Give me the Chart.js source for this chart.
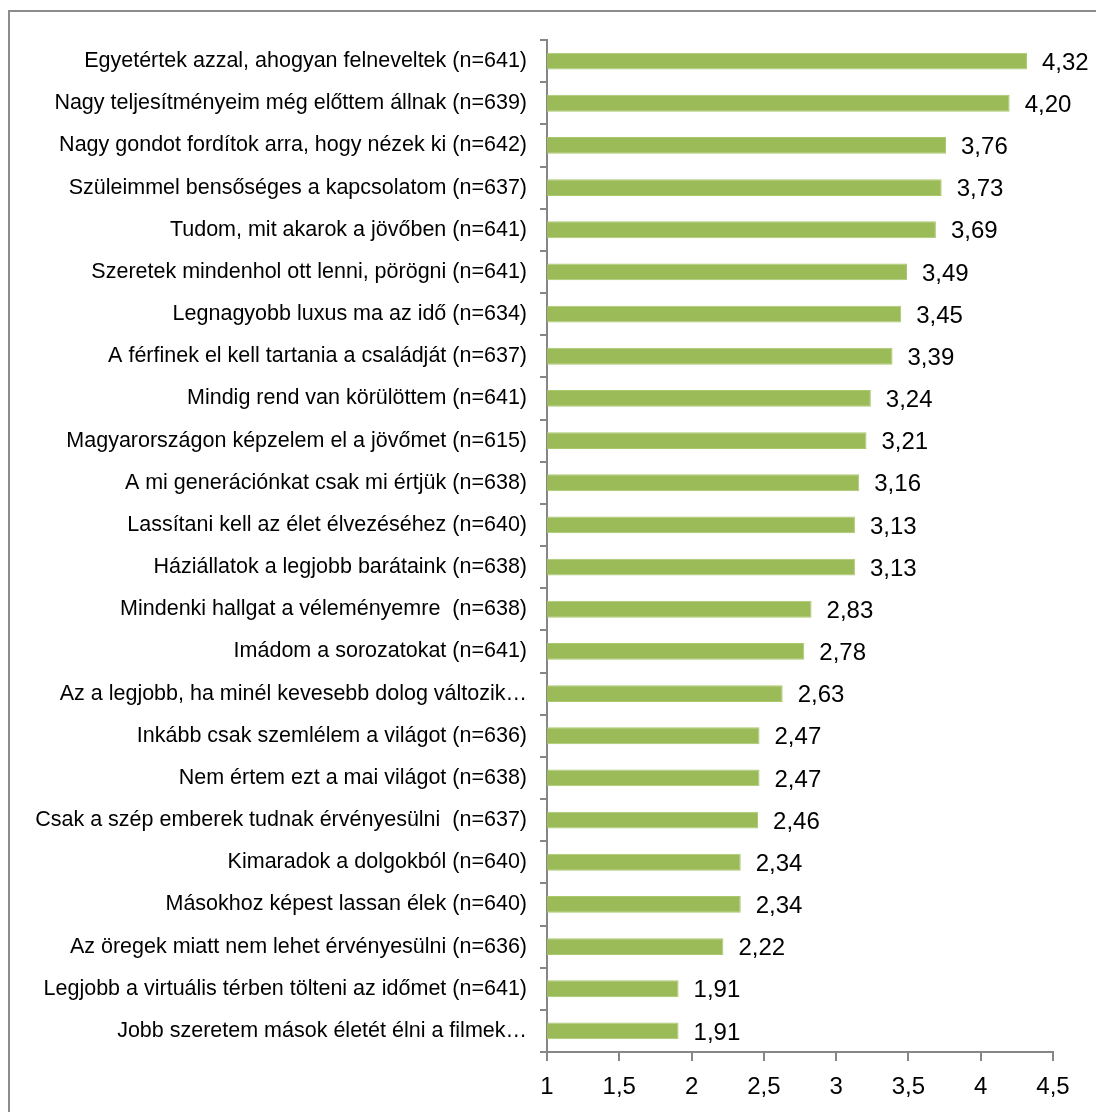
<!DOCTYPE html>
<html>
<head>
<meta charset="utf-8">
<script src="https://cdn.jsdelivr.net/npm/chart.js@4"></script>
<style>
  body { margin: 0; background: #fff; overflow: hidden; }
  #keret { position: absolute; left: 8px; top: 10px; width: 1200px; height: 1200px; border: 2px solid #8c8c8c; }
  #doboz { position: absolute; left: 0; top: 0; width: 1096px; height: 1112px; }
</style>
</head>
<body>
<div id="keret"></div>
<div id="doboz"><canvas id="myChart" width="1096" height="1112"></canvas></div>
<script>
const allitasok = [
  "Egyetértek azzal, ahogyan felneveltek (n=641)",
  "Nagy teljesítményeim még előttem állnak (n=639)",
  "Nagy gondot fordítok arra, hogy nézek ki (n=642)",
  "Szüleimmel bensőséges a kapcsolatom (n=637)",
  "Tudom, mit akarok a jövőben (n=641)",
  "Szeretek mindenhol ott lenni, pörögni (n=641)",
  "Legnagyobb luxus ma az idő (n=634)",
  "A férfinek el kell tartania a családját (n=637)",
  "Mindig rend van körülöttem (n=641)",
  "Magyarországon képzelem el a jövőmet (n=615)",
  "A mi generációnkat csak mi értjük (n=638)",
  "Lassítani kell az élet élvezéséhez (n=640)",
  "Háziállatok a legjobb barátaink (n=638)",
  "Mindenki hallgat a véleményemre  (n=638)",
  "Imádom a sorozatokat (n=641)",
  "Az a legjobb, ha minél kevesebb dolog változik…",
  "Inkább csak szemlélem a világot (n=636)",
  "Nem értem ezt a mai világot (n=638)",
  "Csak a szép emberek tudnak érvényesülni  (n=637)",
  "Kimaradok a dolgokból (n=640)",
  "Másokhoz képest lassan élek (n=640)",
  "Az öregek miatt nem lehet érvényesülni (n=636)",
  "Legjobb a virtuális térben tölteni az időmet (n=641)",
  "Jobb szeretem mások életét élni a filmek…"
];
const atlagok = [4.32, 4.20, 3.76, 3.73, 3.69, 3.49, 3.45, 3.39, 3.24, 3.21, 3.16, 3.13,
  3.13, 2.83, 2.78, 2.63, 2.47, 2.47, 2.46, 2.34, 2.34, 2.22, 1.91, 1.91];
const tengelyMin = 1;
const tengelyMax = 4.5;
const lepes = 0.5;

const betu = "'Liberation Sans', Arial, sans-serif";
const tengelySzin = "#868686";

const ertekCimkek = {
  id: "ertekCimkek",
  afterDatasetsDraw(chart) {
    const ctx = chart.ctx;
    const meta = chart.getDatasetMeta(0);
    ctx.save();
    ctx.font = "24px " + betu;
    ctx.fillStyle = "#000";
    ctx.textAlign = "left";
    ctx.textBaseline = "middle";
    meta.data.forEach((bar, i) => {
      const szoveg = atlagok[i].toFixed(2).replace(".", ",");
      ctx.fillText(szoveg, bar.x + 15, bar.y + 2);
    });
    ctx.restore();
  }
};

let grapharea = document.getElementById("myChart").getContext("2d");
let myChart = new Chart(grapharea, {
  type: "bar",
  data: {
    labels: allitasok,
    datasets: [{
      data: atlagok,
      backgroundColor: "#9bbb59",
      borderColor: "#a9c86c",
      borderWidth: 1,
      categoryPercentage: 1,
      barPercentage: 0.4
    }]
  },
  options: {
    indexAxis: "y",
    responsive: false,
    animation: false,
    layout: { padding: { top: 40, right: 43, left: 0, bottom: 0 } },
    plugins: { legend: { display: false }, tooltip: { enabled: false } },
    scales: {
      x: {
        min: tengelyMin,
        max: tengelyMax,
        afterFit(scale) { scale.height = 60; },
        afterBuildTicks(scale) {
          const t = [];
          for (let v = tengelyMin; v <= tengelyMax + 1e-9; v += lepes) t.push({ value: v });
          scale.ticks = t;
        },
        border: { display: true, color: tengelySzin, width: 2 },
        grid: { drawOnChartArea: false, drawTicks: true, tickLength: 9, color: tengelySzin, lineWidth: 2 },
        ticks: {
          color: "#000",
          font: { size: 24, family: betu },
          padding: 12,
          maxRotation: 0,
          callback: (v) => String(v).replace(".", ",")
        }
      },
      y: {
        afterFit(scale) { scale.width = 547; },
        border: { display: true, color: tengelySzin, width: 2 },
        grid: { drawOnChartArea: false, drawTicks: true, tickLength: 7, offset: true, color: tengelySzin, lineWidth: 2 },
        ticks: {
          color: "#000",
          font: { size: 21.5, family: betu },
          padding: 13,
          autoSkip: false
        }
      }
    }
  },
  plugins: [ertekCimkek]
});
</script>
</body>
</html>
